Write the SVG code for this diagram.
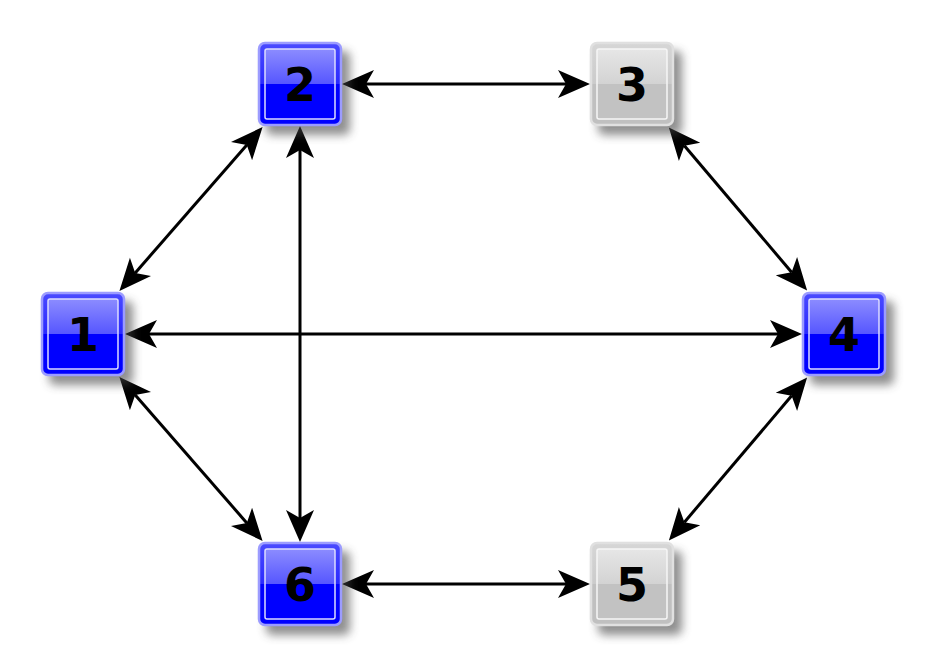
<svg xmlns="http://www.w3.org/2000/svg" width="928" height="667" viewBox="0 0 928 667">
<style>
.lbl{font-family:"DejaVu Sans",sans-serif;font-weight:bold;font-size:46px;fill:#000;text-anchor:middle}
.edge{stroke:#000;stroke-width:3;fill:none;marker-start:url(#ah);marker-end:url(#ah)}
.shadow{fill:#444;opacity:0.6;filter:url(#blur)}
.bo{fill:url(#bf);stroke:#9c9cff;stroke-width:2.5}
.bi{fill:url(#bg);stroke:#dcdcff;stroke-width:1.5}
.go{fill:url(#gf);stroke:#e0e0e0;stroke-width:2.5}
.gi{fill:url(#gg);stroke:#f6f6f6;stroke-width:1.5}
</style>
<defs>
<filter id="blur" x="-30%" y="-30%" width="160%" height="160%"><feGaussianBlur stdDeviation="5"/></filter>
<linearGradient id="bf" x1="0" y1="0" x2="0" y2="1">
<stop offset="0" stop-color="#4a4aff"/><stop offset="0.5" stop-color="#2a2aff"/><stop offset="0.5" stop-color="#0000ff"/><stop offset="1" stop-color="#0000ff"/>
</linearGradient>
<linearGradient id="bg" x1="0" y1="0" x2="0" y2="1">
<stop offset="0" stop-color="#8c8cff"/><stop offset="0.5" stop-color="#5656ff"/><stop offset="0.5" stop-color="#0000ff"/><stop offset="1" stop-color="#0000ff"/>
</linearGradient>
<linearGradient id="gf" x1="0" y1="0" x2="0" y2="1">
<stop offset="0" stop-color="#d6d6d6"/><stop offset="0.5" stop-color="#cbcbcb"/><stop offset="0.5" stop-color="#c0c0c0"/><stop offset="1" stop-color="#c0c0c0"/>
</linearGradient>
<linearGradient id="gg" x1="0" y1="0" x2="0" y2="1">
<stop offset="0" stop-color="#e6e6e6"/><stop offset="0.5" stop-color="#d3d3d3"/><stop offset="0.5" stop-color="#c2c2c2"/><stop offset="1" stop-color="#c2c2c2"/>
</linearGradient>
<marker id="ah" markerUnits="userSpaceOnUse" markerWidth="34" markerHeight="30" viewBox="0 -15 34 30" refX="8" refY="0" orient="auto-start-reverse" overflow="visible">
<path d="M32,0 L0,-14 L8,0 L0,14 Z" fill="#000"/>
</marker>
<g id="blueNode">
<rect class="shadow" x="-34" y="-33" width="84" height="84" rx="6"/>
<rect class="bo" x="-41" y="-41" width="82" height="82" rx="6"/>
<rect class="bi" x="-35" y="-35" width="70" height="70" rx="2"/>
</g>
<g id="grayNode">
<rect class="shadow" x="-34" y="-33" width="84" height="84" rx="6"/>
<rect class="go" x="-41" y="-41" width="82" height="82" rx="6"/>
<rect class="gi" x="-35" y="-35" width="70" height="70" rx="2"/>
</g>
</defs>
<rect width="928" height="667" fill="#fff"/>
<g id="connectors">
<path class="edge" d="M366,84 L566,84"/>
<path class="edge" d="M366,584 L566,584"/>
<path class="edge" d="M149,334 L778,334"/>
<path class="edge" d="M300,150 L300,518"/>
<path class="edge" d="M135.2,272.9 L246.8,145.1"/>
<path class="edge" d="M135.2,395.1 L246.8,522.9"/>
<path class="edge" d="M684.4,145.8 L791.6,272.2"/>
<path class="edge" d="M791.6,395.8 L684.4,522.2"/>
</g>
<g id="node1" transform="translate(83,334)"><use href="#blueNode"/><text class="lbl" y="17">1</text></g>
<g id="node2" transform="translate(300,84)"><use href="#blueNode"/><text class="lbl" y="17">2</text></g>
<g id="node3" transform="translate(632,84)"><use href="#grayNode"/><text class="lbl" y="17">3</text></g>
<g id="node4" transform="translate(844,334)"><use href="#blueNode"/><text class="lbl" y="17">4</text></g>
<g id="node5" transform="translate(632,584)"><use href="#grayNode"/><text class="lbl" y="17">5</text></g>
<g id="node6" transform="translate(300,584)"><use href="#blueNode"/><text class="lbl" y="17">6</text></g>
</svg>
